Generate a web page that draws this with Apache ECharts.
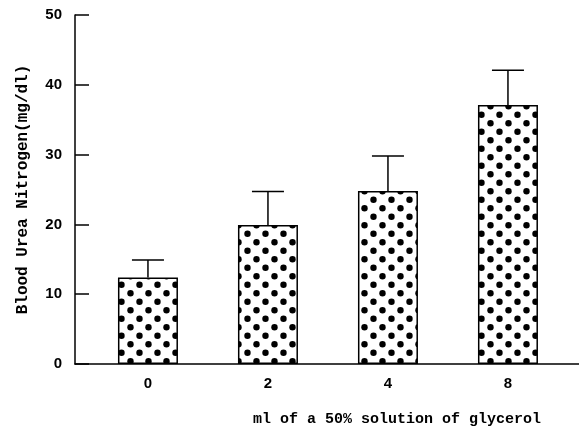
<!DOCTYPE html>
<html>
<head>
<meta charset="utf-8">
<script src="https://cdn.jsdelivr.net/npm/echarts@6/dist/echarts.min.js"></script>
<style>html,body{margin:0;padding:0;background:#fff}#c{width:579px;height:428px}</style>
</head>
<body>
<div id="c"></div>
<script>
const categories = ['0', '2', '4', '8'];
const means = [12.4, 19.9, 24.8, 37.1];
const errTops = [14.9, 24.7, 29.8, 42.1];
const yTicks = [0, 10, 20, 30, 40, 50];

// dotted pattern tile
const tile = document.createElement('canvas');
tile.width = 18; tile.height = 17;
const ctx = tile.getContext('2d');
ctx.fillStyle = '#fff';
ctx.fillRect(0, 0, 18, 17);
ctx.fillStyle = '#000';
[[4.5, 4.25], [13.5, 12.75]].forEach(function (p) {
  ctx.beginPath(); ctx.arc(p[0], p[1], 3.2, 0, Math.PI * 2); ctx.fill();
});

const chart = echarts.init(document.getElementById('c'), null, {renderer: 'canvas'});
const fontAxis = '"Liberation Sans Narrow", "Liberation Sans", sans-serif';
const fontMono = '"Liberation Mono", "DejaVu Sans Mono", monospace';

chart.setOption({
  backgroundColor: '#fff',
  animation: false,
  grid: {left: 75, right: 0, top: 15, bottom: 64, containLabel: false, outerBoundsMode: 'none'},
  xAxis: {
    type: 'value',
    min: -0.608, max: 3.592,
    splitLine: {show: false},
    axisTick: {show: false},
    axisLine: {show: true, onZero: false, lineStyle: {color: '#000', width: 1.5}},
    axisLabel: {
      customValues: categories.map(function (c, i) { return i; }),
      formatter: function (v) { return categories[Math.round(v)]; },
      color: '#000', fontFamily: fontAxis, fontWeight: 'bold', fontSize: 15, margin: 12
    },
    name: 'ml of a 50% solution of glycerol',
    nameLocation: 'middle',
    nameGap: 48,
    nameTextStyle: {color: '#000', fontFamily: fontMono, fontWeight: 'bold', fontSize: 15, padding: [0, 0, 0, 140]}
  },
  yAxis: {
    type: 'value',
    min: 0, max: 50, interval: 10,
    splitLine: {show: false},
    axisLine: {show: true, onZero: false, lineStyle: {color: '#000', width: 1.5}},
    axisTick: {show: true, inside: true, length: 14, lineStyle: {color: '#000', width: 1.5}},
    axisLabel: {
      customValues: yTicks,
      color: '#000', fontFamily: fontAxis, fontWeight: 'bold', fontSize: 15, margin: 13
    },
    name: 'Blood Urea Nitrogen(mg/dl)',
    nameLocation: 'middle',
    nameGap: 44,
    nameTextStyle: {color: '#000', fontFamily: fontMono, fontWeight: 'bold', fontSize: 16}
  },
  series: [
    {
      type: 'bar',
      barWidth: 60,
      data: means.map(function (v, i) { return [i, v]; }),
      itemStyle: {
        color: {image: tile, repeat: 'repeat'},
        borderColor: '#000',
        borderWidth: 1.5
      }
    },
    {
      type: 'custom',
      data: means.map(function (v, i) { return [i, v, errTops[i]]; }),
      renderItem: function (params, api) {
        const x = api.value(0);
        const p0 = api.coord([x, api.value(1)]);
        const p1 = api.coord([x, api.value(2)]);
        const half = 16;
        const style = {stroke: '#000', lineWidth: 1.5};
        return {
          type: 'group',
          children: [
            {type: 'line', shape: {x1: p0[0], y1: p0[1], x2: p1[0], y2: p1[1]}, style: style},
            {type: 'line', shape: {x1: p1[0] - half, y1: p1[1], x2: p1[0] + half, y2: p1[1]}, style: style}
          ]
        };
      },
      z: 3
    }
  ]
});
</script>
</body>
</html>
